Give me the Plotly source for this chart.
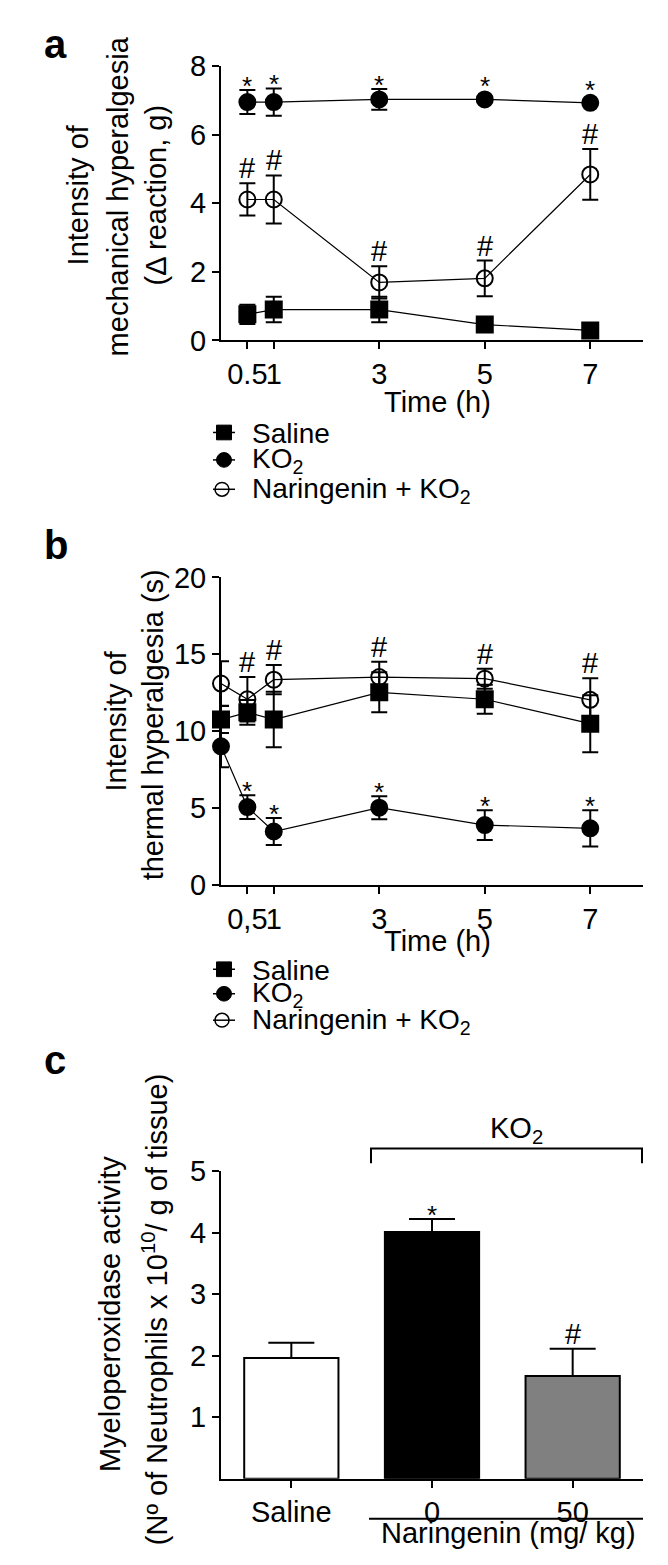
import plotly.graph_objects as go

W, H = 668, 1565
FONT = "Liberation Sans, Arial, Helvetica, sans-serif"

# ---------------- data ----------------
# Panel a: mechanical hyperalgesia (delta reaction, g)
time_a = [0.5, 1, 3, 5, 7]
time_a_labels = ["0.5", "1", "3", "5", "7"]
mech_saline = [0.76, 0.90, 0.90, 0.46, 0.29]
mech_saline_err = [0.28, 0.37, 0.37, 0.08, 0.05]
mech_ko2 = [6.95, 6.95, 7.03, 7.03, 6.93]
mech_ko2_err = [0.35, 0.40, 0.30, 0.08, 0.05]
mech_nar = [4.11, 4.11, 1.69, 1.81, 4.84]
mech_nar_err = [0.47, 0.70, 0.47, 0.52, 0.74]
mech_ko2_sig = ["*", "*", "*", "*", "*"]
mech_nar_sig = ["#", "#", "#", "#", "#"]

# Panel b: thermal hyperalgesia (s)
time_b = [0, 0.5, 1, 3, 5, 7]
time_b_ticks = [0.5, 1, 3, 5, 7]
time_b_labels = ["0,5", "1", "3", "5", "7"]
therm_saline = [10.76, 11.23, 10.76, 12.53, 12.08, 10.49]
therm_saline_err = [0.88, 0.80, 1.80, 1.30, 0.95, 1.85]
therm_ko2 = [9.02, 5.07, 3.48, 5.03, 3.90, 3.69]
therm_ko2_err = [1.36, 0.77, 0.88, 0.75, 0.97, 1.18]
therm_nar = [13.10, 12.08, 13.35, 13.52, 13.42, 12.04]
therm_nar_err = [1.45, 1.45, 0.95, 1.00, 0.65, 1.40]
therm_ko2_sig = ["", "*", "*", "*", "*", "*"]
therm_nar_sig = ["", "#", "#", "#", "#", "#"]

# Panel c: myeloperoxidase activity
mpo_groups = ["Saline", "0", "50"]
mpo_values = [1.96, 4.01, 1.67]
mpo_err = [0.25, 0.21, 0.44]
mpo_colors = ["white", "black", "#808080"]
mpo_sig = ["", "*", "#"]

# ---------------- helpers ----------------
def pxx(x):
    return x / W


def pyy(y):
    return 1 - y / H


fig = go.Figure()

axis_common = dict(
    showline=True, linecolor="black", linewidth=2,
    ticks="outside", ticklen=7, tickwidth=2, tickcolor="black",
    showgrid=False, zeroline=False, layer="below traces", tickangle=0,
    tickfont=dict(size=29, color="black", family=FONT),
)


def add_series(xs, ys, errs, symbol, xa, ya):
    fig.add_trace(go.Scatter(
        x=xs, y=ys, mode="lines+markers", xaxis=xa, yaxis=ya,
        line=dict(color="black", width=1.2),
        marker=dict(symbol=symbol, size=16, color="black",
                    line=dict(color="black", width=2)),
        error_y=dict(type="data", array=errs, color="black", thickness=2, width=8),
        cliponaxis=False, showlegend=False, hoverinfo="skip",
    ))


add_series(time_a, mech_saline, mech_saline_err, "square", "x", "y")
add_series(time_a, mech_ko2, mech_ko2_err, "circle", "x", "y")
add_series(time_a, mech_nar, mech_nar_err, "circle-open", "x", "y")

add_series(time_b, therm_saline, therm_saline_err, "square", "x2", "y2")
add_series(time_b, therm_ko2, therm_ko2_err, "circle", "x2", "y2")
add_series(time_b, therm_nar, therm_nar_err, "circle-open", "x2", "y2")

fig.add_trace(go.Bar(
    x=mpo_groups, y=mpo_values, xaxis="x3", yaxis="y3", width=0.67,
    marker=dict(color=mpo_colors, line=dict(color="black", width=2)),
    error_y=dict(type="data", symmetric=False, array=mpo_err,
                 arrayminus=[0] * len(mpo_err), color="black", thickness=2, width=23),
    showlegend=False, hoverinfo="skip",
))

XDOM = [213 / W, 635 / W]
fig.update_layout(
    width=W, height=H,
    margin=dict(l=0, r=0, t=0, b=0),
    paper_bgcolor="white", plot_bgcolor="white",
    font=dict(family=FONT, color="black", size=29),
    xaxis=dict(domain=XDOM, anchor="y", range=[0, 8], tickvals=time_a,
               ticktext=time_a_labels, **axis_common),
    yaxis=dict(domain=[pyy(323), pyy(43)], anchor="x", range=[0, 8],
               tickvals=[0, 2, 4, 6, 8], **axis_common),
    xaxis2=dict(domain=XDOM, anchor="y2", range=[0, 8], tickvals=time_b_ticks,
                ticktext=time_b_labels, **axis_common),
    yaxis2=dict(domain=[pyy(879), pyy(565)], anchor="x2", range=[0, 20],
                tickvals=[0, 5, 10, 15, 20], **axis_common),
    xaxis3=dict(domain=XDOM, anchor="y3", type="category", range=[-0.5, 2.5],
                **axis_common),
    yaxis3=dict(domain=[pyy(1485), pyy(1171)], anchor="x3", range=[0, 5],
                tickvals=[1, 2, 3, 4, 5], **axis_common),
)


# ---------------- significance marks ----------------
def add_sig(xs, ys, errs, marks, xref, yref, px_per_unit):
    for x, y, e, m in zip(xs, ys, errs, marks):
        if not m:
            continue
        extra = max(0.0, 9 - e * px_per_unit)
        if m == "*":
            size, shift = 26, 4
        else:
            size, shift = 29, 15
        fig.add_annotation(
            x=x, y=y + e, xref=xref, yref=yref, text=m, showarrow=False,
            yanchor="middle", xanchor="center", yshift=shift + extra,
            font=dict(size=size, color="black", family=FONT),
        )


add_sig(time_a, mech_ko2, mech_ko2_err, mech_ko2_sig, "x", "y", 35)
add_sig(time_a, mech_nar, mech_nar_err, mech_nar_sig, "x", "y", 35)
add_sig(time_b, therm_ko2, therm_ko2_err, therm_ko2_sig, "x2", "y2", 15.7)
add_sig(time_b, therm_nar, therm_nar_err, therm_nar_sig, "x2", "y2", 15.7)
# category axis: annotations positioned by category index
add_sig(list(range(len(mpo_groups))), mpo_values, mpo_err, mpo_sig, "x3", "y3", 62.8)


# ---------------- text labels ----------------
def text(x, y, s, size=29, angle=0, xanchor="center", bold=False):
    fig.add_annotation(
        x=pxx(x), y=pyy(y), xref="paper", yref="paper", text=s, showarrow=False,
        textangle=angle, xanchor=xanchor, yanchor="middle",
        font=dict(size=size, color="black", family=FONT,
                  weight="bold" if bold else "normal"),
    )


# panel letters
text(47, 20, "a", size=40, bold=True)
text(48, 532, "b", size=40, bold=True)
text(47, 1058, "c", size=40, bold=True)

# y titles
text(70, 175, "Intensity of", angle=-90)
text(110, 176, "mechanical hyperalgesia", angle=-90)
text(148, 175, "(\u0394 reaction, g)", angle=-90)
text(108, 712, "Intensity of", angle=-90)
text(145, 716, "thermal hyperalgesia (s)", angle=-90)
text(102, 1317, "Myeloperoxidase activity", angle=-90)
text(147, 1312, "(N\u00ba of Neutrophils x 10<sup>10</sup>/ g of tissue)", angle=-90)

# x titles
text(429, 386, "Time (h)")
text(429, 936, "Time (h)")

# panel c extras
text(508, 1129, "KO<sub>2</sub>")
text(500, 1541, "Naringenin (mg/ kg)")
fig.add_shape(type="path", xref="paper", yref="paper",
              path=f"M {pxx(363)} {pyy(1163)} L {pxx(363)} {pyy(1148)} "
                   f"L {pxx(634)} {pyy(1148)} L {pxx(634)} {pyy(1163)}",
              line=dict(color="black", width=2))
fig.add_shape(type="line", xref="paper", yref="paper",
              x0=pxx(361), x1=pxx(635), y0=pyy(1526), y1=pyy(1526),
              line=dict(color="black", width=2))

# ---------------- legends ----------------
legend_labels = ["Saline", "KO<sub>2</sub>", "Naringenin + KO<sub>2</sub>"]
legend_symbols = ["square", "circle", "circle-open"]


def legend_block(rows):
    for yc, lab, sym in zip(rows, legend_labels, legend_symbols):
        fig.add_shape(type="line", xref="paper", yref="paper",
                      x0=pxx(205), x1=pxx(227), y0=pyy(yc), y1=pyy(yc),
                      line=dict(color="black", width=1.5))
        r = 7.5
        cx = 216
        if sym == "square":
            fig.add_shape(type="rect", xref="paper", yref="paper",
                          x0=pxx(cx - r), x1=pxx(cx + r), y0=pyy(yc + r), y1=pyy(yc - r),
                          fillcolor="black", line=dict(color="black", width=1))
        elif sym == "circle":
            fig.add_shape(type="circle", xref="paper", yref="paper",
                          x0=pxx(cx - r), x1=pxx(cx + r), y0=pyy(yc + r), y1=pyy(yc - r),
                          fillcolor="black", line=dict(color="black", width=1))
        else:
            r2 = 7
            fig.add_shape(type="circle", xref="paper", yref="paper",
                          x0=pxx(cx - 2 - r2), x1=pxx(cx - 2 + r2),
                          y0=pyy(yc + r2), y1=pyy(yc - r2),
                          line=dict(color="black", width=1.5))
        text(242, yc + 1, lab, size=28, xanchor="left")


legend_block([417, 445, 475])
legend_block([965, 990, 1017])

fig.write_html("out.html")
